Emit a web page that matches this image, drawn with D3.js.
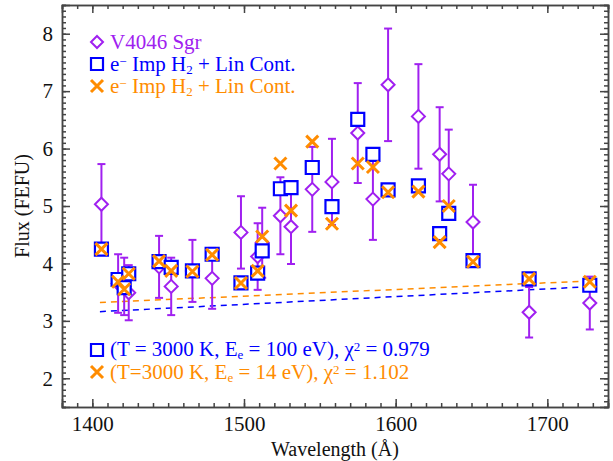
<!DOCTYPE html>
<html>
<head>
<meta charset="utf-8">
<script src="https://cdn.jsdelivr.net/npm/d3@7"></script>
<style>
  body { margin: 0; background: #fff; }
</style>
</head>
<body>
<div id="chart"></div>
<script>
// observed wavelengths (Angstrom)
var wave = [1406, 1417, 1421, 1424, 1444, 1452, 1466, 1479, 1498, 1509, 1512, 1524,
            1531, 1545, 1558, 1575, 1585, 1595, 1615, 1629, 1635, 1651, 1688, 1728];
// V4046 Sgr flux and error
var obsFlux = [5.03, 3.65, 3.60, 3.49, 3.94, 3.60, 3.87, 3.74, 4.54, 4.12, 4.36, 4.83,
               4.64, 5.29, 5.42, 6.27, 5.12, 7.11, 6.56, 5.90, 5.56, 4.72, 3.15, 3.31];
var obsErr = [0.70, 0.51, 0.50, 0.48, 0.54, 0.50, 0.54, 0.53, 0.63, 0.58, 0.61, 0.67,
              0.65, 0.74, 0.75, 0.87, 0.71, 0.98, 0.91, 0.82, 0.77, 0.65, 0.44, 0.46];
// model 1 (100 eV) and model 2 (14 eV)
var model100 = [4.25, 3.72, 3.58, 3.82, 4.03, 3.93, 3.87, 4.16, 3.66, 3.83, 4.22, 5.30,
                5.32, 5.67, 4.99, 6.51, 5.90, 5.28, 5.35, 4.52, 4.87, 4.05, 3.73, 3.62];
var model14 = [4.25, 3.68, 3.55, 3.82, 4.04, 3.87, 3.86, 4.15, 3.66, 3.87, 4.47, 5.74,
               4.92, 6.12, 4.69, 5.74, 5.68, 5.24, 5.25, 4.37, 5.00, 4.03, 3.73, 3.68];
// linear continua
var contWave = [1405, 1732];
var cont100 = [3.16, 3.60];
var cont14 = [3.32, 3.70];

var xTicks = [1400, 1500, 1600, 1700];
var yTicks = [2, 3, 4, 5, 6, 7, 8];

var purple = "#a020f0", blue = "#0000ff", orange = "#ff8c00", axisCol = "#444";
var serif = "'Liberation Serif', 'Times New Roman', 'DejaVu Serif', serif";

var W = 613, H = 461;
var margin = {top: 5, right: 5, bottom: 54, left: 62},
    width = W - margin.left - margin.right,
    height = H - margin.top - margin.bottom;

var svg = d3.select("#chart").append("svg")
    .attr("width", W).attr("height", H);

var g = svg.append("g").attr("transform", "translate(" + margin.left + "," + margin.top + ")");

var x = d3.scaleLinear().domain([1380, 1740]).range([0, width]);
var y = d3.scaleLinear().domain([1.5, 8.5]).range([height, 0]);

var minorX = d3.range(1380, 1741, 10);
var minorY = d3.range(15, 86, 1).map(function (d) { return d / 10; });

function styleAxis(sel) {
    sel.attr("font-family", null);
    sel.selectAll("path").attr("stroke", axisCol).attr("stroke-width", 1.5);
    sel.selectAll("line").attr("stroke", axisCol).attr("stroke-width", 1.5);
    sel.selectAll("text").attr("fill", "#111")
        .style("font-family", serif).style("font-size", "21px");
}

// bottom
g.append("g").attr("transform", "translate(0," + height + ")")
    .call(d3.axisBottom(x).tickValues(minorX).tickSize(-4).tickFormat(""))
    .call(styleAxis);
g.append("g").attr("transform", "translate(0," + height + ")")
    .call(d3.axisBottom(x).tickValues(xTicks).tickSize(-8).tickPadding(9).tickFormat(d3.format("d")))
    .call(styleAxis);
// top
g.append("g")
    .call(d3.axisTop(x).tickValues(minorX).tickSize(-4).tickFormat(""))
    .call(styleAxis);
g.append("g")
    .call(d3.axisTop(x).tickValues(xTicks).tickSize(-8).tickFormat(""))
    .call(styleAxis);
// left
g.append("g")
    .call(d3.axisLeft(y).tickValues(minorY).tickSize(-4).tickFormat(""))
    .call(styleAxis);
g.append("g")
    .call(d3.axisLeft(y).tickValues(yTicks).tickSize(-8).tickPadding(9).tickFormat(d3.format("d")))
    .call(styleAxis);
// right
g.append("g").attr("transform", "translate(" + width + ",0)")
    .call(d3.axisRight(y).tickValues(minorY).tickSize(-4).tickFormat(""))
    .call(styleAxis);
g.append("g").attr("transform", "translate(" + width + ",0)")
    .call(d3.axisRight(y).tickValues(yTicks).tickSize(-8).tickFormat(""))
    .call(styleAxis);

// axis titles
svg.append("text")
    .attr("x", margin.left + width / 2).attr("y", H - 5)
    .attr("text-anchor", "middle").style("font-family", serif).style("font-size", "20px").attr("fill", "#111")
    .text("Wavelength (\u00c5)");
svg.append("text")
    .attr("transform", "translate(29," + (margin.top + height / 2) + ") rotate(-90)")
    .attr("text-anchor", "middle").style("font-family", serif).style("font-size", "20px").attr("fill", "#111")
    .text("Flux (FEFU)");

// continuum lines
var line = d3.line().x(function (d) { return x(d[0]); }).y(function (d) { return y(d[1]); });
g.append("path").datum(d3.zip(contWave, cont14))
    .attr("d", line).attr("fill", "none").attr("stroke", orange)
    .attr("stroke-width", 1.5).attr("stroke-dasharray", "6,5");
g.append("path").datum(d3.zip(contWave, cont100))
    .attr("d", line).attr("fill", "none").attr("stroke", blue)
    .attr("stroke-width", 1.5).attr("stroke-dasharray", "6,5");

var data = wave.map(function (w, i) {
    return {w: w, f: obsFlux[i], e: obsErr[i], m1: model100[i], m2: model14[i]};
});

// error bars
var eb = g.selectAll(".err").data(data).enter().append("g").attr("class", "err")
    .attr("stroke", purple).attr("stroke-width", 2);
eb.append("line")
    .attr("x1", function (d) { return x(d.w); }).attr("x2", function (d) { return x(d.w); })
    .attr("y1", function (d) { return y(d.f - d.e); }).attr("y2", function (d) { return y(d.f + d.e); });
eb.append("line")
    .attr("x1", function (d) { return x(d.w) - 4; }).attr("x2", function (d) { return x(d.w) + 4; })
    .attr("y1", function (d) { return y(d.f + d.e); }).attr("y2", function (d) { return y(d.f + d.e); });
eb.append("line")
    .attr("x1", function (d) { return x(d.w) - 4; }).attr("x2", function (d) { return x(d.w) + 4; })
    .attr("y1", function (d) { return y(d.f - d.e); }).attr("y2", function (d) { return y(d.f - d.e); });

function diamond(sel, r) {
    return sel.attr("d", "M0,-" + r + "L" + r + ",0L0," + r + "L-" + r + ",0Z");
}
function square(sel, r) {
    return sel.attr("d", "M-" + r + ",-" + r + "H" + r + "V" + r + "H-" + r + "Z");
}
function cross(sel, r) {
    return sel.attr("d", "M-" + r + ",-" + r + "L" + r + "," + r + "M-" + r + "," + r + "L" + r + ",-" + r);
}

g.selectAll(".obs").data(data).enter().append("path").attr("class", "obs")
    .attr("transform", function (d) { return "translate(" + x(d.w) + "," + y(d.f) + ")"; })
    .call(diamond, 6.5)
    .attr("fill", "#fff").attr("stroke", purple).attr("stroke-width", 2);

g.selectAll(".m1").data(data).enter().append("path").attr("class", "m1")
    .attr("transform", function (d) { return "translate(" + x(d.w) + "," + y(d.m1) + ")"; })
    .call(square, 6.5)
    .attr("fill", "#fff").attr("stroke", blue).attr("stroke-width", 2.2);

g.selectAll(".m2").data(data).enter().append("path").attr("class", "m2")
    .attr("transform", function (d) { return "translate(" + x(d.w) + "," + y(d.m2) + ")"; })
    .call(cross, 6)
    .attr("fill", "none").attr("stroke", orange).attr("stroke-width", 3);

// legend text helper: segments with optional sub/sup
function richText(parent, px, py, color, segs) {
    var t = parent.append("text").attr("x", px).attr("y", py)
        .attr("fill", color).style("font-family", serif).style("font-size", "21px");
    segs.forEach(function (s) {
        var sp = t.append("tspan").text(s[0]);
        if (s[1] === "sub") sp.attr("baseline-shift", "-25%").style("font-size", "13px");
        if (s[1] === "sup") sp.attr("baseline-shift", "40%").style("font-size", "13px");
    });
    return t;
}

var leg = svg.append("g");
leg.append("path").attr("transform", "translate(97,42)").call(diamond, 6)
    .attr("fill", "none").attr("stroke", purple).attr("stroke-width", 2);
richText(leg, 110, 49, purple, [["V4046 Sgr"]]);
leg.append("path").attr("transform", "translate(97,64)").call(square, 6)
    .attr("fill", "none").attr("stroke", blue).attr("stroke-width", 2.2);
richText(leg, 110, 71, blue, [["e"], ["\u2212", "sup"], [" Imp H"], ["2", "sub"], [" + Lin Cont."]]);
leg.append("path").attr("transform", "translate(97,86)").call(cross, 6)
    .attr("fill", "none").attr("stroke", orange).attr("stroke-width", 3);
richText(leg, 110, 93, orange, [["e"], ["\u2212", "sup"], [" Imp H"], ["2", "sub"], [" + Lin Cont."]]);

leg.append("path").attr("transform", "translate(97,350)").call(square, 6)
    .attr("fill", "none").attr("stroke", blue).attr("stroke-width", 2.2);
richText(leg, 110, 356, blue, [["(T = 3000 K, E"], ["e", "sub"], [" = 100 eV), \u03c7"], ["2", "sup"], [" = 0.979"]]);
leg.append("path").attr("transform", "translate(97,372)").call(cross, 6)
    .attr("fill", "none").attr("stroke", orange).attr("stroke-width", 3);
richText(leg, 110, 379, orange, [["(T=3000 K, E"], ["e", "sub"], [" = 14 eV), \u03c7"], ["2", "sup"], [" = 1.102"]]);
</script>
</body>
</html>
